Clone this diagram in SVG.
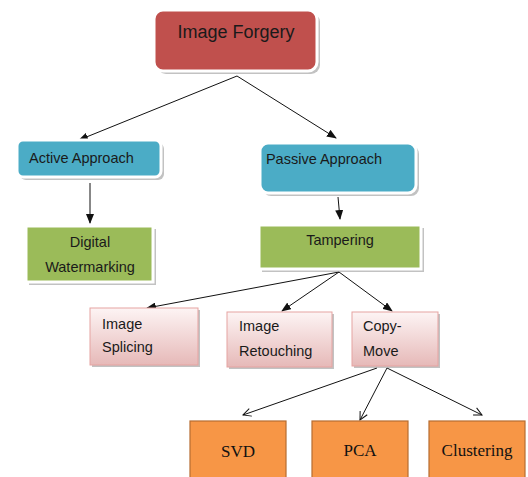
<svg xmlns="http://www.w3.org/2000/svg" width="528" height="477" viewBox="0 0 528 477">
<style>
text{font-family:"Liberation Sans",Arial,sans-serif;fill:#1a1a1a;}
.t13{font-size:14.5px;}
.serif{font-family:"Liberation Serif","Times New Roman",serif;font-size:17px;fill:#111;}
.shadow{fill:#9a9a9a;opacity:0.6;}
.red{fill:#C0504D;stroke:#fff;stroke-width:3;}
.blue{fill:#4BACC6;stroke:#fff;stroke-width:3;}
.green{fill:#9BBB59;stroke:#fff;stroke-width:3;}
.pink{fill:url(#pinkg);stroke:#E6A3A1;stroke-width:1;}
.orange{fill:#F79646;stroke:#B66D31;stroke-width:1.2;}
.ln{stroke:#111;stroke-width:1;fill:none;}
</style>
<defs>
<linearGradient id="pinkg" x1="0" y1="0" x2="0" y2="1">
<stop offset="0" stop-color="#FDF4F4"/>
<stop offset="1" stop-color="#E6B9B8"/>
</linearGradient>
<marker id="ah" markerWidth="10" markerHeight="8" refX="9" refY="4" orient="auto" markerUnits="userSpaceOnUse">
<path d="M0,0 L10,4 L0,8 Z" fill="#111"/>
</marker>
<marker id="oh" markerWidth="10" markerHeight="10" refX="9" refY="5" orient="auto" markerUnits="userSpaceOnUse">
<path d="M1,1 L9,5 L1,9" fill="none" stroke="#111" stroke-width="1"/>
</marker>
</defs>
<g id="connectors">
<line class="ln" x1="237" y1="76" x2="79" y2="140" marker-end="url(#ah)"/>
<line class="ln" x1="237" y1="76" x2="336" y2="138" marker-end="url(#ah)"/>
<line class="ln" x1="90" y1="183" x2="90" y2="223" marker-end="url(#ah)"/>
<line class="ln" x1="338" y1="197" x2="340" y2="219" marker-end="url(#ah)"/>
<line class="ln" x1="339" y1="272" x2="147" y2="308" marker-end="url(#ah)"/>
<line class="ln" x1="339" y1="272" x2="282" y2="311" marker-end="url(#ah)"/>
<line class="ln" x1="339" y1="272" x2="392" y2="311" marker-end="url(#ah)"/>
<line class="ln" x1="377" y1="368" x2="243" y2="415" marker-end="url(#oh)"/>
<line class="ln" x1="387" y1="368" x2="360" y2="420" marker-end="url(#oh)"/>
<line class="ln" x1="387" y1="368" x2="482" y2="415" marker-end="url(#oh)"/>
</g>
<g id="image-forgery">
<rect class="shadow" x="157" y="13" width="163" height="61" rx="9"/>
<rect class="red" x="154" y="10" width="163" height="61" rx="9"/>
<text x="236" y="38" font-size="18" text-anchor="middle">Image Forgery</text>
</g>
<g id="active-approach">
<rect class="shadow" x="20" y="143" width="144" height="37" rx="6"/>
<rect class="blue" x="17" y="140" width="144" height="37" rx="6"/>
<text class="t13" x="29" y="163">Active Approach</text>
</g>
<g id="passive-approach">
<rect class="shadow" x="263" y="146" width="156" height="50" rx="8"/>
<rect class="blue" x="260" y="143" width="156" height="50" rx="8"/>
<text class="t13" x="324" y="164" text-anchor="middle">Passive Approach</text>
</g>
<g id="digital-watermarking">
<rect class="shadow" x="29" y="229" width="127" height="56"/>
<rect class="green" x="26" y="226" width="127" height="56"/>
<text class="t13" x="90" y="247" text-anchor="middle">Digital</text>
<text class="t13" x="90" y="272" text-anchor="middle">Watermarking</text>
</g>
<g id="tampering">
<rect class="shadow" x="262" y="228" width="162" height="44"/>
<rect class="green" x="259" y="225" width="162" height="44"/>
<text class="t13" x="340" y="245" text-anchor="middle">Tampering</text>
</g>
<g id="image-splicing">
<rect class="shadow" x="92" y="310" width="108" height="57"/>
<rect class="pink" x="90" y="308" width="108" height="57"/>
<text class="t13" x="102" y="329">Image</text>
<text class="t13" x="102" y="352">Splicing</text>
</g>
<g id="image-retouching">
<rect class="shadow" x="229" y="314" width="105" height="55"/>
<rect class="pink" x="227" y="312" width="105" height="55"/>
<text class="t13" x="239" y="331">Image</text>
<text class="t13" x="239" y="356">Retouching</text>
</g>
<g id="copy-move">
<rect class="shadow" x="354" y="314" width="86" height="54"/>
<rect class="pink" x="352" y="312" width="86" height="54"/>
<text class="t13" x="363" y="331">Copy-</text>
<text class="t13" x="363" y="356">Move</text>
</g>
<g id="svd">
<rect class="orange" x="190" y="421" width="96" height="60"/>
<text class="serif" x="238" y="457" text-anchor="middle">SVD</text>
</g>
<g id="pca">
<rect class="orange" x="312" y="421" width="96" height="60"/>
<text class="serif" x="360" y="456" text-anchor="middle">PCA</text>
</g>
<g id="clustering">
<rect class="orange" x="429" y="421" width="96" height="60"/>
<text class="serif" x="477" y="456" text-anchor="middle">Clustering</text>
</g>
</svg>
